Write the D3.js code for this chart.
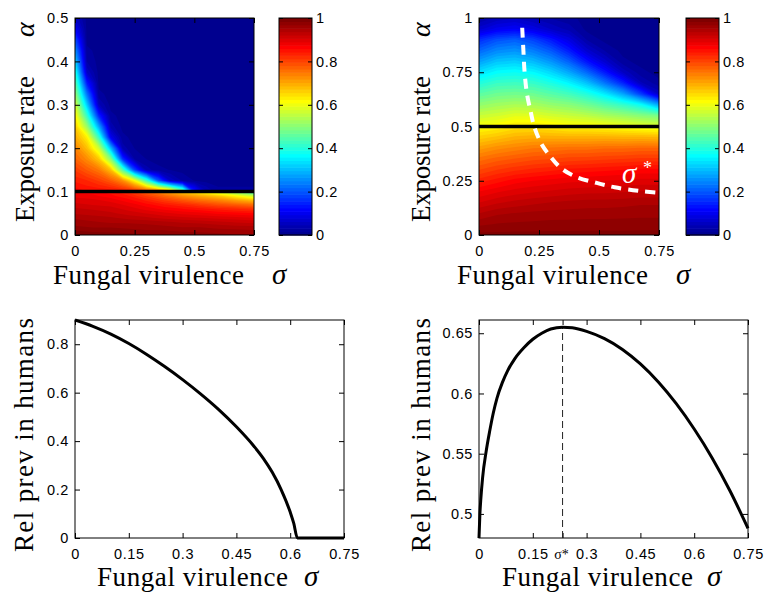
<!DOCTYPE html>
<html><head><meta charset="utf-8">
<script src="https://cdn.jsdelivr.net/npm/d3@7"></script>
<style>body{margin:0;background:#fff}svg{display:block}</style>
</head><body><svg id="c" width="765" height="597"></svg>
<script>
// ================= DATA =================
const heatSigmaTicks = [0, 0.25, 0.5, 0.75];
const tlAlphaTicks = [0, 0.1, 0.2, 0.3, 0.4, 0.5];
const trAlphaTicks = [0, 0.25, 0.5, 0.75, 1];
const cbarTicks = [0, 0.2, 0.4, 0.6, 0.8, 1];
const lineSigmaTicks = [0, 0.15, 0.3, 0.45, 0.6, 0.75];
const blPrevTicks = [0, 0.2, 0.4, 0.6, 0.8];
const brPrevTicks = [0.5, 0.55, 0.6, 0.65];
const sigmaStar = 0.233;

const tlThresholdAlpha = 0.1;
const trThresholdAlpha = 0.5;

// Top-left, below threshold: alpha 0..0.1 (step 0.01), sigma 0..0.75 (step 0.075)
const tlLowAlpha0 = 0, tlLowAlphaStep = 0.01, tlLowSigmaStep = 0.075;
const tlLowGrid = [
  [1.0, 0.995, 0.99, 0.99, 0.985, 0.98, 0.98, 0.975, 0.975, 0.97, 0.97],
  [0.985, 0.98, 0.98, 0.975, 0.97, 0.97, 0.965, 0.965, 0.96, 0.96, 0.955],
  [0.97, 0.965, 0.965, 0.96, 0.96, 0.955, 0.95, 0.95, 0.945, 0.94, 0.94],
  [0.96, 0.955, 0.95, 0.95, 0.945, 0.94, 0.935, 0.93, 0.925, 0.92, 0.915],
  [0.95, 0.945, 0.94, 0.93, 0.925, 0.915, 0.91, 0.905, 0.9, 0.895, 0.89],
  [0.935, 0.93, 0.925, 0.915, 0.905, 0.895, 0.885, 0.88, 0.87, 0.865, 0.86],
  [0.925, 0.92, 0.915, 0.9, 0.885, 0.87, 0.86, 0.85, 0.84, 0.83, 0.82],
  [0.91, 0.905, 0.9, 0.885, 0.865, 0.845, 0.83, 0.81, 0.79, 0.775, 0.76],
  [0.9, 0.895, 0.885, 0.865, 0.84, 0.81, 0.785, 0.76, 0.74, 0.71, 0.68],
  [0.885, 0.88, 0.865, 0.845, 0.81, 0.77, 0.73, 0.7, 0.67, 0.62, 0.56],
  [0.87, 0.865, 0.85, 0.82, 0.77, 0.71, 0.66, 0.61, 0.55, 0.48, 0.4]
];

// Top-left, above threshold: alpha 0.1..0.5 (step 0.025), sigma 0..0.75 (step 0.05)
const tlHighAlpha0 = 0.1, tlHighAlphaStep = 0.025, tlHighSigmaStep = 0.05;
const tlHighGrid = [
  [0.87, 0.86, 0.86, 0.86, 0.85, 0.84, 0.82, 0.80, 0.72, 0.52, 0.15, 0.05, 0.02, 0.02, 0.02, 0.02],
  [0.84, 0.83, 0.81, 0.78, 0.73, 0.62, 0.43, 0.20, 0.06, 0.03, 0.015, 0.01, 0.01, 0.01, 0.01, 0.01],
  [0.81, 0.78, 0.75, 0.68, 0.45, 0.18, 0.04, 0.02, 0.015, 0.01, 0.01, 0.01, 0.01, 0.01, 0.01, 0.01],
  [0.77, 0.73, 0.67, 0.50, 0.16, 0.03, 0.015, 0.01, 0.01, 0.01, 0.01, 0.01, 0.01, 0.01, 0.01, 0.01],
  [0.74, 0.68, 0.57, 0.30, 0.04, 0.015, 0.01, 0.01, 0.01, 0.01, 0.01, 0.01, 0.01, 0.01, 0.01, 0.01],
  [0.70, 0.63, 0.42, 0.10, 0.02, 0.01, 0.01, 0.01, 0.01, 0.01, 0.01, 0.01, 0.01, 0.01, 0.01, 0.01],
  [0.67, 0.52, 0.28, 0.04, 0.01, 0.01, 0.01, 0.01, 0.01, 0.01, 0.01, 0.01, 0.01, 0.01, 0.01, 0.01],
  [0.63, 0.42, 0.15, 0.02, 0.01, 0.01, 0.01, 0.01, 0.01, 0.01, 0.01, 0.01, 0.01, 0.01, 0.01, 0.01],
  [0.58, 0.32, 0.05, 0.01, 0.01, 0.01, 0.01, 0.01, 0.01, 0.01, 0.01, 0.01, 0.01, 0.01, 0.01, 0.01],
  [0.52, 0.23, 0.02, 0.01, 0.01, 0.01, 0.01, 0.01, 0.01, 0.01, 0.01, 0.01, 0.01, 0.01, 0.01, 0.01],
  [0.46, 0.14, 0.01, 0.01, 0.01, 0.01, 0.01, 0.01, 0.01, 0.01, 0.01, 0.01, 0.01, 0.01, 0.01, 0.01],
  [0.40, 0.06, 0.01, 0.01, 0.01, 0.01, 0.01, 0.01, 0.01, 0.01, 0.01, 0.01, 0.01, 0.01, 0.01, 0.01],
  [0.33, 0.03, 0.01, 0.01, 0.01, 0.01, 0.01, 0.01, 0.01, 0.01, 0.01, 0.01, 0.01, 0.01, 0.01, 0.01],
  [0.26, 0.02, 0.01, 0.01, 0.01, 0.01, 0.01, 0.01, 0.01, 0.01, 0.01, 0.01, 0.01, 0.01, 0.01, 0.01],
  [0.19, 0.01, 0.01, 0.01, 0.01, 0.01, 0.01, 0.01, 0.01, 0.01, 0.01, 0.01, 0.01, 0.01, 0.01, 0.01],
  [0.11, 0.01, 0.01, 0.01, 0.01, 0.01, 0.01, 0.01, 0.01, 0.01, 0.01, 0.01, 0.01, 0.01, 0.01, 0.01],
  [0.06, 0.01, 0.01, 0.01, 0.01, 0.01, 0.01, 0.01, 0.01, 0.01, 0.01, 0.01, 0.01, 0.01, 0.01, 0.01]
];

// Top-right: alpha 0..1 (step 0.05), sigma 0..0.75 (step 0.075)
const trAlpha0 = 0, trAlphaStep = 0.05, trSigmaStep = 0.075;
const trGrid = [
  [0.99, 0.99, 0.99, 0.99, 0.99, 0.99, 0.99, 0.99, 0.99, 0.99, 0.99],
  [0.965, 0.97, 0.972, 0.973, 0.975, 0.975, 0.976, 0.976, 0.976, 0.977, 0.977],
  [0.938, 0.95, 0.954, 0.957, 0.959, 0.96, 0.961, 0.961, 0.962, 0.963, 0.963],
  [0.906, 0.919, 0.927, 0.933, 0.938, 0.942, 0.944, 0.945, 0.947, 0.95, 0.95],
  [0.875, 0.888, 0.898, 0.904, 0.909, 0.914, 0.917, 0.918, 0.92, 0.923, 0.923],
  [0.836, 0.852, 0.867, 0.875, 0.881, 0.886, 0.889, 0.891, 0.894, 0.896, 0.896],
  [0.797, 0.813, 0.825, 0.833, 0.84, 0.848, 0.852, 0.856, 0.86, 0.865, 0.865],
  [0.758, 0.773, 0.783, 0.792, 0.797, 0.804, 0.806, 0.81, 0.813, 0.817, 0.817],
  [0.712, 0.729, 0.74, 0.75, 0.754, 0.759, 0.759, 0.764, 0.764, 0.769, 0.769],
  [0.663, 0.677, 0.692, 0.698, 0.696, 0.694, 0.694, 0.695, 0.692, 0.692, 0.688],
  [0.615, 0.625, 0.644, 0.646, 0.637, 0.625, 0.625, 0.617, 0.607, 0.596, 0.587],
  [0.563, 0.575, 0.591, 0.589, 0.575, 0.563, 0.551, 0.533, 0.518, 0.5, 0.484],
  [0.51, 0.525, 0.534, 0.53, 0.513, 0.5, 0.477, 0.446, 0.417, 0.375, 0.281],
  [0.455, 0.474, 0.479, 0.473, 0.452, 0.431, 0.398, 0.35, 0.281, 0.175, 0.06],
  [0.398, 0.422, 0.427, 0.419, 0.393, 0.359, 0.308, 0.231, 0.15, 0.05, 0.02],
  [0.338, 0.369, 0.375, 0.363, 0.329, 0.281, 0.217, 0.138, 0.06, 0.02, 0.01],
  [0.275, 0.31, 0.318, 0.30, 0.263, 0.209, 0.133, 0.07, 0.02, 0.01, 0.01],
  [0.215, 0.25, 0.261, 0.238, 0.2, 0.141, 0.07, 0.03, 0.01, 0.01, 0.01],
  [0.158, 0.194, 0.207, 0.181, 0.138, 0.088, 0.03, 0.01, 0.01, 0.01, 0.01],
  [0.07, 0.10, 0.11, 0.09, 0.06, 0.04, 0.01, 0.01, 0.01, 0.01, 0.01],
  [0.03, 0.05, 0.06, 0.045, 0.03, 0.02, 0.01, 0.01, 0.01, 0.01, 0.01]
];

// Optimal virulence curve sigma*(alpha) in top-right panel
const sigmaStarCurveSigma = [0.18, 0.185, 0.19, 0.2, 0.215, 0.23, 0.26, 0.295, 0.34, 0.4, 0.49, 0.565, 0.67, 0.75];
const sigmaStarCurveAlpha = [0.955, 0.85, 0.75, 0.65, 0.57, 0.5, 0.42, 0.365, 0.31, 0.27, 0.24, 0.22, 0.203, 0.195];

// Bottom-left: relative prevalence vs sigma (alpha = 0.1)
const blSigma = [0, 0.05, 0.1, 0.15, 0.2, 0.25, 0.3, 0.35, 0.4, 0.45, 0.5, 0.525, 0.55, 0.575, 0.6, 0.61, 0.62, 0.65, 0.7, 0.75];
const blPrev  = [0.9, 0.874, 0.842, 0.803, 0.758, 0.708, 0.654, 0.595, 0.531, 0.459, 0.377, 0.329, 0.271, 0.199, 0.107, 0.06, 0, 0, 0, 0];

// Bottom-right: relative prevalence vs sigma (alpha = 0.5)
const brSigma = [0, 0.0025, 0.005, 0.01, 0.02, 0.03, 0.04, 0.05, 0.065, 0.08, 0.1, 0.125, 0.15, 0.175, 0.2, 0.233, 0.26, 0.3, 0.35, 0.4, 0.45, 0.5, 0.55, 0.6, 0.65, 0.7, 0.75];
const brPrev  = [0.48, 0.5, 0.512, 0.53, 0.552, 0.569, 0.584, 0.596, 0.609, 0.619, 0.629, 0.638, 0.645, 0.65, 0.6535, 0.655, 0.6545, 0.6515, 0.6455, 0.6365, 0.6245, 0.6095, 0.5915, 0.5705, 0.5465, 0.519, 0.488];

// ================= DRAWING =================
const svg = d3.select('#c');
const SANS = "'Liberation Sans', Arial, Helvetica, sans-serif";
const SERIF = "'Liberation Serif', 'Times New Roman', Times, serif";
const defs = svg.append('defs');

// MATLAB jet(64)
function jet(m) {
  const n = Math.ceil(m / 4), u = [];
  for (let i = 1; i <= n; i++) u.push(i / n);
  for (let i = 0; i < n - 1; i++) u.push(1);
  for (let i = n; i >= 1; i--) u.push(i / n);
  const g0 = Math.ceil(n / 2) - (m % 4 === 1 ? 1 : 0);
  const J = Array.from({length: m}, () => [0, 0, 0]);
  u.forEach((v, k) => {
    const g = g0 + k + 1, r = g + n, b = g - n;
    if (r >= 1 && r <= m) J[r - 1][0] = v;
    if (g >= 1 && g <= m) J[g - 1][1] = v;
    if (b >= 1 && b <= m) J[b - 1][2] = v;
  });
  return J.map(c => d3.rgb(c[0] * 255, c[1] * 255, c[2] * 255).formatHex());
}
const JET = jet(64);
const thresholds = d3.range(64).map(k => k / 64);

let clipCount = 0;
function clip(x0, y0, w, h) {
  const id = 'clip' + (clipCount++);
  defs.append('clipPath').attr('id', id).append('rect').attr('x', x0).attr('y', y0).attr('width', w).attr('height', h);
  return `url(#${id})`;
}

function heat(grid, alpha0, alphaStep, sigmaStep, x, y, aLo, aHi) {
  const ny = grid.length, nx = grid[0].length;
  const vals = grid.flat();
  const cs = d3.contours().size([nx, ny]).thresholds(thresholds)(vals);
  const tf = d3.geoTransform({
    point(px, py) { this.stream.point(x((px - 0.5) * sigmaStep), y(alpha0 + (py - 0.5) * alphaStep)); }
  });
  const path = d3.geoPath(tf);
  const [x0, x1] = x.range();
  const cp = clip(x0, y(aHi), x1 - x0, y(aLo) - y(aHi));
  svg.append('g').attr('clip-path', cp)
    .selectAll('path').data(cs).join('path')
    .attr('d', path).attr('fill', (d, i) => JET[i]);
}

const tickStyle = s => {
  s.select('.domain').remove();
  s.attr('font-family', SANS).attr('font-size', 14.5).attr('letter-spacing', 0.6);
  s.selectAll('line').attr('stroke', '#000');
  s.selectAll('text').attr('fill', '#000');
};

function axes(x, y, xt, yt, xfmt, yfmt) {
  const [x0, x1] = x.range();
  const [y1, y0] = y.range();
  const g = svg.append('g');
  g.append('g').attr('transform', `translate(0,${y1})`)
    .call(d3.axisBottom(x).tickValues(xt).tickSizeInner(-5).tickSizeOuter(0).tickPadding(11).tickFormat(xfmt)).call(tickStyle);
  g.append('g').attr('transform', `translate(0,${y0})`)
    .call(d3.axisTop(x).tickValues(xt).tickSizeInner(-5).tickSizeOuter(0).tickFormat('')).call(tickStyle);
  g.append('g').attr('transform', `translate(${x0},0)`)
    .call(d3.axisLeft(y).tickValues(yt).tickSizeInner(-5).tickSizeOuter(0).tickPadding(6).tickFormat(yfmt)).call(tickStyle);
  g.append('g').attr('transform', `translate(${x1},0)`)
    .call(d3.axisRight(y).tickValues(yt).tickSizeInner(-5).tickSizeOuter(0).tickFormat('')).call(tickStyle);
  g.append('rect').attr('x', x0).attr('y', y0).attr('width', x1 - x0).attr('height', y1 - y0)
    .attr('fill', 'none').attr('stroke', '#000').attr('stroke-width', 1);
  return g;
}

function colorbar(cx0, cx1, cyTop, cyBot) {
  const cy = d3.scaleLinear().domain([0, 1]).range([cyBot, cyTop]);
  svg.append('g').selectAll('rect').data(d3.range(64)).join('rect')
    .attr('x', cx0).attr('width', cx1 - cx0)
    .attr('y', k => cy((k + 1) / 64)).attr('height', k => cy(k / 64) - cy((k + 1) / 64) + 0.6)
    .attr('fill', k => JET[k]);
  svg.append('g').attr('transform', `translate(${cx1},0)`)
    .call(d3.axisRight(cy).tickValues(cbarTicks).tickSizeInner(-4).tickSizeOuter(0).tickPadding(4).tickFormat(d => String(d))).call(tickStyle);
  svg.append('g').attr('transform', `translate(${cx0},0)`)
    .call(d3.axisLeft(cy).tickValues(cbarTicks).tickSizeInner(-4).tickSizeOuter(0).tickFormat('')).call(tickStyle);
  svg.append('rect').attr('x', cx0).attr('y', cyTop).attr('width', cx1 - cx0).attr('height', cyBot - cyTop)
    .attr('fill', 'none').attr('stroke', '#000').attr('stroke-width', 1);
}

function xTitle(xStart, len, xSig, yBase) {
  svg.append('text').attr('x', xStart).attr('y', yBase).attr('font-family', SERIF).attr('font-size', 27)
    .attr('textLength', len).attr('lengthAdjust', 'spacing').text('Fungal virulence');
  svg.append('text').attr('x', xSig).attr('y', yBase).attr('font-family', SERIF).attr('font-size', 29)
    .attr('font-style', 'italic').text('σ');
}
function yTitle(xBase, yStart, len, label, yGreek) {
  svg.append('text').attr('transform', `translate(${xBase},${yStart}) rotate(-90)`)
    .attr('font-family', SERIF).attr('font-size', 27).attr('textLength', len).attr('lengthAdjust', 'spacing').text(label);
  if (yGreek != null) {
    svg.append('text').attr('transform', `translate(${xBase},${yGreek}) rotate(-90)`)
      .attr('font-family', SERIF).attr('font-size', 28).attr('font-style', 'italic').text('α');
  }
}
const fmt = d => String(d);

// ---------- Top-left ----------
{
  const x = d3.scaleLinear().domain([0, 0.75]).range([75, 254]);
  const y = d3.scaleLinear().domain([0, 0.5]).range([235, 18]);
  heat(tlLowGrid, tlLowAlpha0, tlLowAlphaStep, tlLowSigmaStep, x, y, 0, tlThresholdAlpha);
  heat(tlHighGrid, tlHighAlpha0, tlHighAlphaStep, tlHighSigmaStep, x, y, tlThresholdAlpha, 0.5);
  svg.append('line').attr('x1', x(0)).attr('x2', x(0.75)).attr('y1', y(tlThresholdAlpha)).attr('y2', y(tlThresholdAlpha))
    .attr('stroke', '#000').attr('stroke-width', 3.5);
  axes(x, y, heatSigmaTicks, tlAlphaTicks, fmt, fmt);
  colorbar(279, 312, 18, 235);
  xTitle(53, 191, 272, 284);
  yTitle(34, 222, 146, 'Exposure rate', 37);
}

// ---------- Top-right ----------
{
  const x = d3.scaleLinear().domain([0, 0.75]).range([479, 659]);
  const y = d3.scaleLinear().domain([0, 1]).range([235, 18]);
  heat(trGrid, trAlpha0, trAlphaStep, trSigmaStep, x, y, 0, 1);
  svg.append('line').attr('x1', x(0)).attr('x2', x(0.75)).attr('y1', y(trThresholdAlpha)).attr('y2', y(trThresholdAlpha))
    .attr('stroke', '#000').attr('stroke-width', 3.5);
  const pts = sigmaStarCurveSigma.map((s, i) => [s, sigmaStarCurveAlpha[i]]);
  svg.append('path').attr('d', d3.line().x(d => x(d[0])).y(d => y(d[1])).curve(d3.curveCatmullRom)(pts))
    .attr('fill', 'none').attr('stroke', '#fff').attr('stroke-width', 4).attr('stroke-dasharray', '10,7');
  svg.append('text').attr('x', 622).attr('y', 183).attr('font-family', SERIF).attr('font-size', 29)
    .attr('font-style', 'italic').attr('fill', '#fff').text('σ');
  svg.append('text').attr('x', 643).attr('y', 174).attr('font-family', SERIF).attr('font-size', 18)
    .attr('fill', '#fff').text('*');
  axes(x, y, heatSigmaTicks, trAlphaTicks, fmt, fmt);
  colorbar(686, 719, 18, 235);
  xTitle(457, 191, 676, 284);
  yTitle(430, 222, 146, 'Exposure rate', 37);
}

// ---------- Bottom-left ----------
{
  const x = d3.scaleLinear().domain([0, 0.75]).range([75, 344]);
  const y = d3.scaleLinear().domain([0, 0.9]).range([538, 320]);
  const pts = blSigma.map((s, i) => [s, blPrev[i]]);
  axes(x, y, lineSigmaTicks, blPrevTicks, fmt, fmt);
  svg.append('path').attr('d', d3.line().x(d => x(d[0])).y(d => y(d[1])).curve(d3.curveMonotoneX)(pts))
    .attr('fill', 'none').attr('stroke', '#000').attr('stroke-width', 3);
  xTitle(97, 191, 304, 586);
  yTitle(33, 552, 234, 'Rel prev in humans', null);
}

// ---------- Bottom-right ----------
{
  const x = d3.scaleLinear().domain([0, 0.75]).range([479, 748]);
  const y = d3.scaleLinear().domain([0.48, 0.661]).range([538, 320]);
  const pts = brSigma.map((s, i) => [s, brPrev[i]]);
  const xt = [0, 0.15, sigmaStar, 0.3, 0.45, 0.6, 0.75];
  axes(x, y, xt, brPrevTicks, d => d === sigmaStar ? '' : fmt(d), fmt);
  svg.append('line').attr('x1', x(sigmaStar)).attr('x2', x(sigmaStar)).attr('y1', y(0.48)).attr('y2', y(d3.max(brPrev)))
    .attr('stroke', '#222').attr('stroke-width', 1).attr('stroke-dasharray', '7,4');
  svg.append('path').attr('d', d3.line().x(d => x(d[0])).y(d => y(d[1])).curve(d3.curveMonotoneX)(pts))
    .attr('fill', 'none').attr('stroke', '#000').attr('stroke-width', 3);
  svg.append('text').attr('x', x(sigmaStar) - 1).attr('y', 559).attr('text-anchor', 'middle')
    .attr('font-family', SERIF).attr('font-size', 14).text('σ*');
  xTitle(502, 191, 707, 586);
  yTitle(430, 552, 234, 'Rel prev in humans', null);
}
</script></body></html>
